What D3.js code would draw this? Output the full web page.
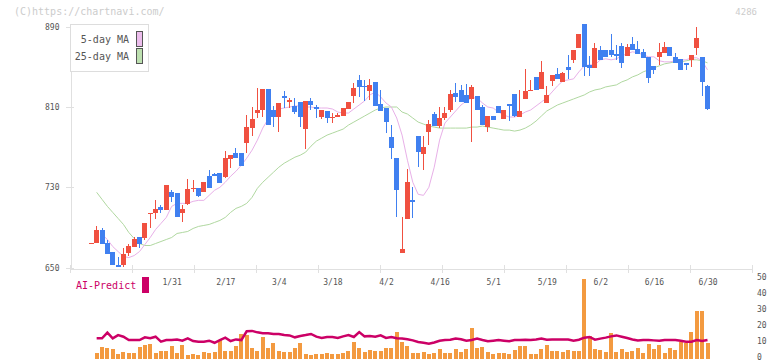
<!DOCTYPE html>
<html lang="en">
<head>
    <meta charset="utf-8">
    <title>4286 chart</title>
    <script src="https://d3js.org/d3.v7.min.js"></script>
    <style>
        html, body {
            margin: 0;
            padding: 0;
            background: #fff;
        }
        text {
            font-family: "DejaVu Sans Mono", monospace;
        }
        .axis path,
        .axis line {
            fill: none;
            stroke: #e0e0e0;
            shape-rendering: crispEdges;
        }
        .axis text {
            fill: #555;
            font-size: 8px;
        }
    </style>
</head>
<body>
<script type="text/javascript">

    var w = 772;
    var h = 361;

    // daily candles (index 0 .. 115), last one is 6/30
    var open  = [675,675,687,675,666,653,653,665,671,680, 679,703.5,704,710,707,725,724,704,713,728.5,
                 729,725,741,743.5,744,740,758,764,764,774, 789,804,807,828,807,800,821,815,811,815,
                 788,816,810,800,806,799,800,801,808,821, 837,831,826,835,813,809,780,759,665,698,
                 717,781,763,785,803,791,799,807,824,827, 822,818,821,810,790,801,811,798,813,823,
                 800,818,826,840,828,814,836,843,835,850, 857,869,893,852,849,867,867,867,863,871,
                 861,873,868,865,860,851,860,864,870,860, 858,854,857,869,860,831];
    var high  = [675,691,689,677,666,661,670,674,680,680, 694,704.5,717,712,732,727,724,712,738,737,
                 729,735,747,744,744,766,762,769,764,802, 810,829,828,828,811,814,826,819,819,815,
                 816,819,812,807,806,804,804,809,815,834, 842,837,838,835,827,809,792,759,700,748,
                 730,781,781,797,805,810,810,827,834,832, 833,832,821,812,801,801,811,807,813,823,
                 827,848,837,840,856,831,842,849,845,862, 867,883,893,861,874,871,867,883,872,874,
                 873,880,876,868,860,851,874,875,870,864, 858,854,862,890,860,832];
    var low   = [675,675,674,664,653,651,651,662,671,670, 677,689,698,704,707,715,700,695,712,725,
                 720,725,729,741,734,739,749,759,751,764, 781,799,800,792,790,785,809,809,803,790,
                 768,807,799,798,794,794,800,801,808,814, 820,816,817,811,806,784,758,700,665,698,
                 699,750,747,772,791,789,797,805,815,815, 814,775,807,792,785,797,804,798,796,800,
                 800,818,826,827,828,814,831,838,835,838, 854,869,841,841,849,857,860,860,857,849,
                 861,867,863,859,834,843,852,864,861,854, 847,847,850,862,821,807];
    var close = [675,687,674,664,653,651,664,672,678,674, 694,704.5,708,707,732,720,700,708,728,729,
                 721,735,729,741,734,759,762,759,751,790, 798,807,828,792,800,814,819,817,805,800,
                 816,812,808,807,799,800,802,809,815,829, 830,830,832,811,806,795,769,727,669,735,
                 715,765,770,793,791,799,804,823,820,815, 814,830,807,792,801,797,804,807,811,801,
                 806,826,827,827,845,822,842,838,844,847, 867,883,850,849,869,857,860,862,861,854,
                 870,867,863,859,839,847,865,870,861,854, 847,852,862,879,835,808];

    var ma5 = [null,null,683,678,671,666,661,660,662,666, 673,680,688,694,700,711,714,714,714,716,
               717,717,722,727,730,735,741,746,752,759, 767,777,789,798,804,808,809,810,811,811,
               810,810,809,809,809,808,805,804,804,808, 812,816,822,825,820,814,810,799,782,757,
               735,723,722,730,750,777,794,800,806,812, 816,819,819,814,810,809,805,802,800,800,
               802,805,807,811,815,819,825,831,836,837, 838,845,851,852,852,857,858,857,858,861,
               863,865,864,862,860,860,856,855,855,856, 857,857,859,859,856,847];
    var ma25 = [null,725,718,711,705,699,693,685,679,674, 672,672,674,676,678,680,684,685,686,689,
                691,692,693,695,697,700,705,709,711,714, 720,729,735,740,745,750,754,757,760,762,
                765,771,776,779,782,784,786,788,792,795, 798,801,804,807,809,810,810,810,805,803,
                799,795,793,791,790,789,789,789,789,789, 789,790,790,791,790,789,788,787,787,786,
                787,789,792,796,801,806,809,812,814,816, 818,820,822,825,827,828,830,831,832,835,
                837,840,842,845,847,849,851,853,854,855, 855,856,857,857,856,854];

    // AI-Predict panel (bars + line), first day has no value
    var aiBars = [null,3.2,7.2,6.5,5.9,2.8,3.8,3.4,3.4,7.2, 8.4,9.0,3.4,4.7,4.7,7.8,3.4,8.4,2.2,2.6,
                  2.2,4.1,3.4,4.1,11.5,4.7,4.7,7.8,15.3,14.4, 6.5,4.9,13.4,6.5,9.7,4.7,4.1,4.1,6.5,9.7,
                  2.8,2.2,3.0,2.8,3.4,2.8,2.8,3.4,4.7,10.3, 6.5,4.1,5.3,4.7,4.7,6.5,6.5,16.5,10.3,7.8,
                  3.4,3.4,4.1,2.8,3.4,5.9,3.4,3.4,5.9,4.1, 5.9,18.9,6.5,7.2,4.1,2.8,3.4,3.4,2.8,5.3,
                  7.8,7.8,2.8,2.8,5.9,8.4,4.7,4.7,4.1,5.3, 4.7,4.7,49.6,14.1,5.9,5.3,4.1,15.9,4.1,5.9,
                  4.1,4.7,6.5,3.4,9.0,5.9,8.4,3.4,6.5,5.3, 10.3,9.7,16.5,29.6,29.6,9.7];
    var aiLine = [null,12.6,12.6,16.1,12.6,14.6,13.6,11.5,11.5,11.5, 13.2,12.6,13.6,10.5,11.5,11.5,11.9,11.1,12.6,10.9,
                  10.5,10.5,11.1,9.8,11.5,13.0,10.9,11.9,11.5,17.0, 17.2,16.3,15.7,15.7,15.3,15.3,14.6,14.4,13.2,14.0,
                  14.6,15.3,13.6,12.8,13.4,13.4,12.8,13.8,14.6,13.4, 16.5,13.8,14.0,13.6,14.4,12.8,13.4,12.6,12.4,12.0,
                  11.3,10.3,9.8,9.2,10.0,11.1,11.5,11.7,12.4,12.0, 11.1,11.5,12.4,11.5,10.7,11.1,11.5,11.1,10.7,11.5,
                  11.5,11.7,11.5,11.9,12.4,11.7,11.9,11.9,11.9,11.9, 11.1,11.7,13.0,13.4,11.7,12.4,13.0,13.8,14.4,13.6,
                  12.8,11.9,11.3,11.5,11.5,11.3,11.1,11.5,11.5,11.5, 11.1,10.5,10.5,11.5,10.9,11.5];

    var priceTicks = [650, 730, 810, 890];
    var aiTicks = [0, 10, 20, 30, 40, 50];
    var dateIdx = [15, 25, 35, 45, 55, 65, 75, 85, 95, 105, 115];
    var dateLabels = ["1/31", "2/17", "3/4", "3/18", "4/2", "4/16", "5/1", "5/19", "6/2", "6/16", "6/30"];

    var upColor = "#f05040", downColor = "#4080f0";

    var xScale = d3.scaleLinear().domain([0, 115]).range([91.3, 707.5]);
    var yScale = d3.scaleLinear().domain([650, 890]).range([267.6, 26.7]);
    var frameX = d3.scaleLinear().domain([0, 11]).range([70, 752]);
    var aiScale = d3.scaleLinear().domain([0, 50]).range([358.5, 278.3]);

    var svg = d3.select("body")
        .append("svg")
        .attr("width", w)
        .attr("height", h);

    // watermark + code
    svg.append("text").attr("x", 14).attr("y", 15)
        .attr("font-size", 10).attr("fill", "#ccc")
        .text("(C)https://chartnavi.com/");
    svg.append("text").attr("x", 757).attr("y", 15)
        .attr("font-size", 9).attr("fill", "#ccc").attr("text-anchor", "end")
        .text("4286");

    // y axis (labels + outward ticks), then inward ticks
    var yAxis = d3.axisLeft(yScale).tickValues(priceTicks).tickSize(5).tickSizeOuter(0).tickPadding(6);
    svg.append("g").attr("class", "axis").attr("transform", "translate(70.5,0)").call(yAxis);
    svg.append("g").attr("class", "axis").attr("transform", "translate(70.5,0)")
        .call(d3.axisLeft(yScale).tickValues(priceTicks).tickSize(-3).tickSizeOuter(0).tickFormat(""))
        .select(".domain").remove();

    // x frame axis
    svg.append("g").attr("class", "axis").attr("transform", "translate(0,268.5)")
        .call(d3.axisBottom(frameX).ticks(11).tickSize(4).tickSizeOuter(0).tickFormat(""));
    svg.append("g").attr("class", "axis").attr("transform", "translate(0,268.5)")
        .call(d3.axisTop(frameX).ticks(11).tickSize(4).tickSizeOuter(0).tickFormat(""))
        .select(".domain").remove();

    // date labels
    var dateAxis = d3.axisBottom(xScale).tickValues(dateIdx)
        .tickFormat(function(d, i) { return dateLabels[i]; })
        .tickSize(0).tickPadding(11);
    var dg = svg.append("g").attr("class", "axis").attr("transform", "translate(0,268)").call(dateAxis);
    dg.select(".domain").remove();

    // moving averages
    var maLine = d3.line()
        .defined(function(d) { return d != null; })
        .x(function(d, i) { return xScale(i); })
        .y(function(d) { return yScale(d); });

    svg.append("path").datum(ma25).attr("d", maLine)
        .attr("fill", "none").attr("stroke", "#b0d8a0").attr("stroke-width", 1);
    svg.append("path").datum(ma5).attr("d", maLine)
        .attr("fill", "none").attr("stroke", "#e8b0e8").attr("stroke-width", 1);

    // candles
    var candles = svg.append("g").attr("shape-rendering", "crispEdges");
    var idx = d3.range(open.length);

    candles.selectAll("rect.wick").data(idx).enter().append("rect")
        .attr("class", "wick")
        .attr("x", function(i) { return xScale(i) - 0.5; })
        .attr("width", 1)
        .attr("y", function(i) { return yScale(high[i]); })
        .attr("height", function(i) { return Math.max(0, yScale(low[i]) - yScale(high[i])); })
        .attr("fill", function(i) { return close[i] >= open[i] ? upColor : downColor; });

    candles.selectAll("rect.body").data(idx).enter().append("rect")
        .attr("class", "body")
        .attr("x", function(i) { return xScale(i) - 2.5; })
        .attr("width", 5)
        .attr("y", function(i) { return yScale(Math.max(open[i], close[i])); })
        .attr("height", function(i) { return Math.max(1, Math.abs(yScale(open[i]) - yScale(close[i]))); })
        .attr("fill", function(i) { return close[i] >= open[i] ? upColor : downColor; });

    // legend
    var lg = svg.append("g");
    lg.append("rect").attr("x", 70.5).attr("y", 24.5).attr("width", 78).attr("height", 47)
        .attr("fill", "#fff").attr("stroke", "#ddd");
    lg.append("text").attr("x", 129).attr("y", 42.7).attr("text-anchor", "end")
        .attr("font-size", 10).attr("fill", "#555").text("5-day MA");
    lg.append("text").attr("x", 129).attr("y", 59.5).attr("text-anchor", "end")
        .attr("font-size", 10).attr("fill", "#555").text("25-day MA");
    lg.append("rect").attr("x", 136.5).attr("y", 31.5).attr("width", 6).attr("height", 15)
        .attr("fill", "#ecbdec").attr("stroke", "#555");
    lg.append("rect").attr("x", 136.5).attr("y", 48.5).attr("width", 6).attr("height", 15)
        .attr("fill", "#bde0b0").attr("stroke", "#555");

    // AI-Predict panel
    svg.append("text").attr("x", 76).attr("y", 289)
        .attr("font-size", 10).attr("fill", "#cc0066").text("AI-Predict");
    svg.append("rect").attr("x", 142).attr("y", 277).attr("width", 7).attr("height", 16)
        .attr("fill", "#cc0066");

    var aiIdx = idx.filter(function(i) { return aiBars[i] != null; });
    svg.append("g").attr("shape-rendering", "crispEdges")
        .selectAll("rect").data(aiIdx).enter().append("rect")
        .attr("x", function(i) { return xScale(i) - 2; })
        .attr("width", 4)
        .attr("y", function(i) { return aiScale(aiBars[i]); })
        .attr("height", function(i) { return aiScale(0) - aiScale(aiBars[i]); })
        .attr("fill", "#f39a40");

    var aiPath = d3.line()
        .defined(function(d) { return d != null; })
        .x(function(d, i) { return xScale(i); })
        .y(function(d) { return aiScale(d); });
    svg.append("path").datum(aiLine).attr("d", aiPath)
        .attr("fill", "none").attr("stroke", "#cc0066").attr("stroke-width", 2.5);

    var aiAxis = d3.axisRight(aiScale).tickValues(aiTicks).tickSize(0).tickPadding(5);
    var ag = svg.append("g").attr("class", "axis").attr("transform", "translate(752,0)").call(aiAxis);
    ag.select(".domain").remove();
    // lift labels a touch so the "0" stays inside the picture
    ag.selectAll("text").attr("fill", "#cc0066").attr("y", -1.2);

</script>
</body>
</html>
